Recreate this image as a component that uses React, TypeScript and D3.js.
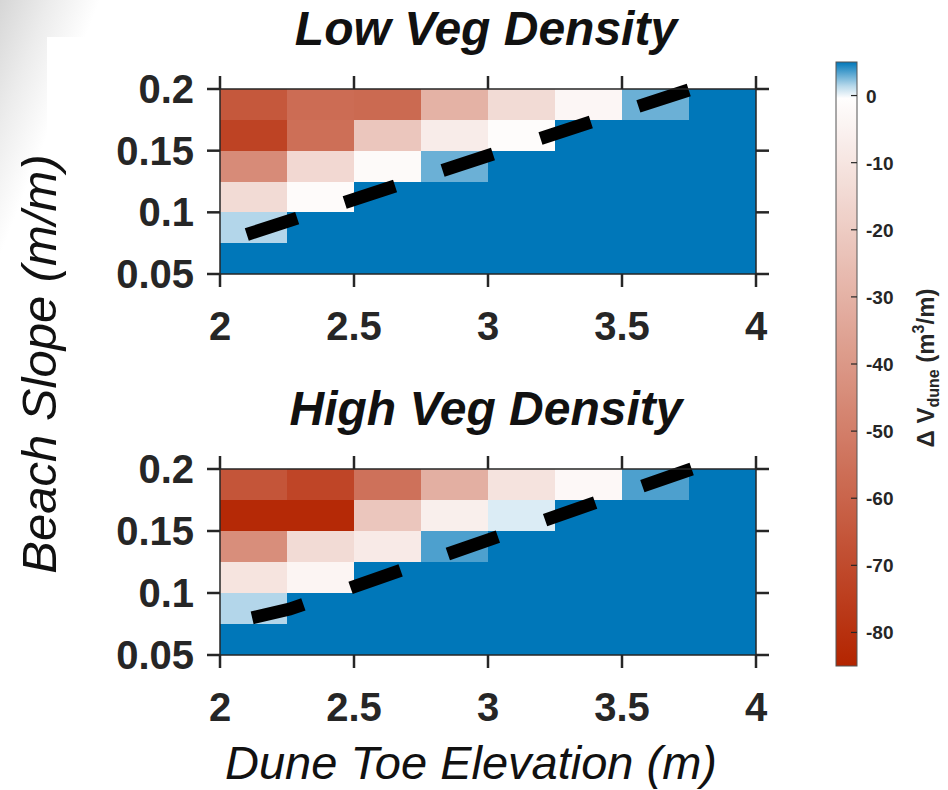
import * as d3 from "d3";

// grid cell centres (m, m/m)
const xCenters = [2.125, 2.375, 2.625, 2.875, 3.125, 3.375, 3.625, 3.875];
const yCenters = [0.1875, 0.1625, 0.1375, 0.1125, 0.0875, 0.0625];

// Delta V_dune (m3/m), rows from top (0.1875) to bottom (0.0625); blue cells saturate
const lowVeg = [
  [-65, -57, -58, -30, -14, -3.5, 2.9, 10],
  [-73, -56, -22, -7.4, -1.2, 10, 10, 10],
  [-45, -15, -2, 2.9, 10, 10, 10, 10],
  [-14, -1.6, 10, 10, 10, 10, 10, 10],
  [1.5, 10, 10, 10, 10, 10, 10, 10],
  [10, 10, 10, 10, 10, 10, 10, 10],
];
const highVeg = [
  [-66, -72, -55, -31, -11, -2.7, 3.5, 10],
  [-83, -83, -22, -6.3, 0.7, 10, 10, 10],
  [-44, -14, -8, 3.5, 10, 10, 10, 10],
  [-10.6, -3.9, 10, 10, 10, 10, 10, 10],
  [1.5, 10, 10, 10, 10, 10, 10, 10],
  [10, 10, 10, 10, 10, 10, 10, 10],
];

// dashed threshold lines
const lowLineX = [2.1, 3.76];
const lowLineY = [0.082, 0.2];
const highLineX = [2.12, 2.26, 3.76];
const highLineY = [0.08, 0.087, 0.2];

const xTicks = [2, 2.5, 3, 3.5, 4];
const yTicks = [0.05, 0.1, 0.15, 0.2];
const cbTicks = [0, -10, -20, -30, -40, -50, -60, -70, -80];

const FONT = "'Liberation Sans', Arial, Helvetica, sans-serif";
const AX = "#262626";
const LEFT = 220;
const RIGHT = 756;

const color = d3
  .scaleLinear<string>()
  .domain([-85, 0, 5])
  .range(["#b32400", "#ffffff", "#0077b9"])
  .clamp(true);

const x = d3.scaleLinear().domain([2, 4]).range([LEFT, RIGHT]);

function Panel({ top, bottom, values, lineX, lineY, title }: any) {
  const y = d3.scaleLinear().domain([0.05, 0.2]).range([bottom, top]);
  const dx = xCenters[1] - xCenters[0];
  const dy = yCenters[0] - yCenters[1];
  const line = d3
    .line<number>()
    .x((d) => x(d))
    .y((_, i) => y(lineY[i]));
  const tl = 13;
  return (
    <g>
      <g shapeRendering="crispEdges">
        {values.map((row: number[], j: number) =>
          row.map((v, i) => {
            const x0 = Math.round(x(xCenters[i] - dx / 2));
            const x1 = Math.round(x(xCenters[i] + dx / 2));
            const y0 = Math.round(y(yCenters[j] + dy / 2));
            const y1 = Math.round(y(yCenters[j] - dy / 2));
            return (
              <rect key={`${i}-${j}`} x={x0} y={y0} width={x1 - x0} height={y1 - y0} fill={color(v)} />
            );
          })
        )}
      </g>
      <path
        d={line(lineX) || ""}
        fill="none"
        stroke="#000"
        strokeWidth={13}
        strokeDasharray="53 50"
      />
      <rect x={LEFT} y={top} width={RIGHT - LEFT} height={bottom - top} fill="none" stroke={AX} strokeWidth={1.5} />
      {xTicks.map((t) => (
        <g key={t}>
          <line x1={x(t)} x2={x(t)} y1={top} y2={top - tl} stroke={AX} strokeWidth={2.5} />
          <line x1={x(t)} x2={x(t)} y1={bottom} y2={bottom + tl} stroke={AX} strokeWidth={2.5} />
          <text
            x={x(t)}
            y={bottom + 66}
            textAnchor="middle"
            fontFamily={FONT}
            fontWeight="bold"
            fontSize={40}
            fill={AX}
          >
            {d3.format("~g")(t)}
          </text>
        </g>
      ))}
      {yTicks.map((t) => (
        <g key={t}>
          <line x1={LEFT} x2={LEFT - tl} y1={y(t)} y2={y(t)} stroke={AX} strokeWidth={2.5} />
          <line x1={RIGHT} x2={RIGHT + tl} y1={y(t)} y2={y(t)} stroke={AX} strokeWidth={2.5} />
          <text
            x={194}
            y={y(t) + 14}
            textAnchor="end"
            fontFamily={FONT}
            fontWeight="bold"
            fontSize={40}
            fill={AX}
          >
            {d3.format("~g")(t)}
          </text>
        </g>
      ))}
      <text
        x={(LEFT + RIGHT) / 2 - 2}
        y={top - 44}
        textAnchor="middle"
        fontFamily={FONT}
        fontWeight="bold"
        fontStyle="italic"
        fontSize={48}
        fill="#111"
      >
        {title}
      </text>
    </g>
  );
}

function Colorbar() {
  const cx = 836;
  const cw = 21;
  const cy = d3.scaleLinear().domain([5, -85]).range([62, 666]);
  const stops = d3.range(0, 1.0001, 0.02);
  return (
    <g>
      <defs>
        <linearGradient id="cb" x1="0" y1="0" x2="0" y2="1">
          {stops.map((s) => (
            <stop key={s} offset={s} stopColor={color(cy.invert(62 + s * 604))} />
          ))}
        </linearGradient>
      </defs>
      <rect x={cx} y={62} width={cw} height={604} fill="url(#cb)" stroke="#555" strokeWidth={1} />
      {cbTicks.map((t) => (
        <g key={t}>
          <line x1={cx + cw - 6} x2={cx + cw} y1={cy(t)} y2={cy(t)} stroke={AX} strokeWidth={1.2} />
          <text x={866} y={cy(t) + 7} fontFamily={FONT} fontWeight="bold" fontSize={19} fill={AX}>
            {t}
          </text>
        </g>
      ))}
      <text
        transform="translate(934,368) rotate(-90)"
        textAnchor="middle"
        fontFamily={FONT}
        fontWeight="bold"
        fontSize={24}
        fill={AX}
      >
        Δ V<tspan fontSize={16} dy={5}>dune</tspan>
        <tspan dy={-5}> (m</tspan>
        <tspan fontSize={16} dy={-10}>3</tspan>
        <tspan dy={10}>/m)</tspan>
      </text>
    </g>
  );
}

export default function App() {
  return (
    <svg
      width={948}
      height={790}
      style={{ position: "absolute", left: 0, top: 0, background: "#fff" }}
    >
      <defs>
        <linearGradient id="bg" gradientUnits="userSpaceOnUse" x1="0" y1="0" x2="87" y2="34">
          <stop offset="0" stopColor="#d6d6d6" />
          <stop offset="0.5" stopColor="#ececec" />
          <stop offset="1" stopColor="#ffffff" />
        </linearGradient>
      </defs>
      <rect x={0} y={0} width={948} height={790} fill="#fff" />
      <polygon points="0,0 100,0 0,260" fill="url(#bg)" />
      <rect x={47} y={37} width={901} height={753} fill="#fff" />
      <Panel top={89} bottom={274} values={lowVeg} lineX={lowLineX} lineY={lowLineY} title="Low Veg Density" />
      <Panel top={469} bottom={655} values={highVeg} lineX={highLineX} lineY={highLineY} title="High Veg Density" />
      <text
        x={471}
        y={779}
        textAnchor="middle"
        fontFamily={FONT}
        fontStyle="italic"
        fontSize={47}
        fill="#111"
      >
        Dune Toe Elevation (m)
      </text>
      <text
        transform="translate(56,364) rotate(-90)"
        textAnchor="middle"
        fontFamily={FONT}
        fontStyle="italic"
        fontSize={49}
        fill="#111"
      >
        Beach Slope (m/m)
      </text>
      <Colorbar />
    </svg>
  );
}
